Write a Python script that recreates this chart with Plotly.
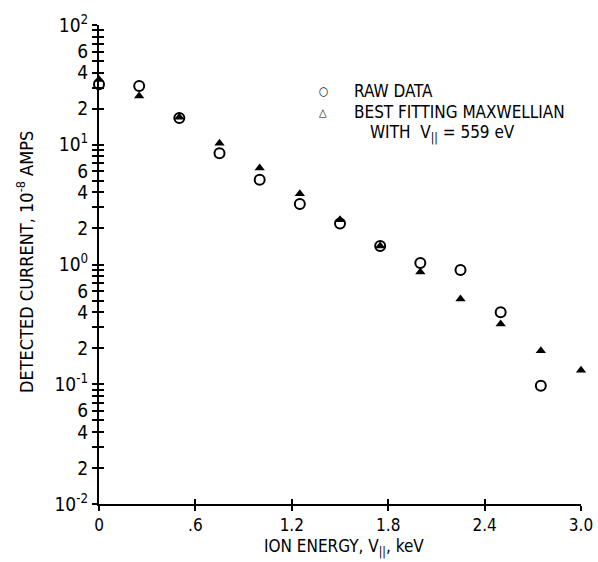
import plotly.graph_objects as go

# Ion energy (keV) and detected current (units of 1e-8 A)
raw_energy = [0.0, 0.25, 0.5, 0.75, 1.0, 1.25, 1.5, 1.75, 2.0, 2.25, 2.5, 2.75]
raw_current = [32, 31, 16.7, 8.5, 5.1, 3.2, 2.2, 1.43, 1.03, 0.90, 0.40, 0.097]

fit_energy = [0.0, 0.25, 0.5, 0.75, 1.0, 1.25, 1.5, 1.75, 2.0, 2.25, 2.5, 2.75, 3.0]
fit_current = [35, 25.5, 17, 10.3, 6.4, 3.9, 2.36, 1.43, 0.865, 0.515, 0.318, 0.19, 0.131]

x_tickvals = [0, 0.6, 1.2, 1.8, 2.4, 3.0]
x_ticktext = ["0", ".6", "1.2", "1.8", "2.4", "3.0"]

decades = [-2, -1, 0, 1, 2]
labelled_mults = [2, 4, 6]
plain_mults = [3, 5, 7, 8, 9]

FONT = "Liberation Sans Narrow, DejaVu Sans Condensed, Arial Narrow, sans-serif"

# log-axis ticks: powers of ten and 2,4,6 labelled, the rest as bare minor ticks
y_tickvals, y_ticktext, y_minorvals = [], [], []
for d in decades:
    y_tickvals.append(10.0 ** d)
    y_ticktext.append(f"10<sup>{d}</sup>")
    if d < 2:
        for m in labelled_mults:
            y_tickvals.append(m * 10.0 ** d)
            y_ticktext.append(str(m))
        for m in plain_mults:
            y_minorvals.append(m * 10.0 ** d)

fig = go.Figure()

fig.add_trace(go.Scatter(
    x=raw_energy, y=raw_current, mode="markers", name="RAW DATA",
    marker=dict(symbol="circle-open", size=10, color="black", line=dict(width=2)),
    cliponaxis=False, showlegend=False,
))
fig.add_trace(go.Scatter(
    x=fit_energy, y=fit_current, mode="markers", name="BEST FITTING MAXWELLIAN",
    marker=dict(symbol="triangle-up", size=9, color="black"),
    cliponaxis=False, showlegend=False,
))
# empty trace that carries the overlay axes used for the inward half of each tick
fig.add_trace(go.Scatter(x=[], y=[], xaxis="x2", yaxis="y2", showlegend=False))

axis_common = dict(showgrid=False, zeroline=False, color="black", automargin=False)
tick_style = dict(ticklen=5, tickwidth=1.5, tickcolor="black")

fig.update_layout(
    width=598, height=562,
    margin=dict(l=99, r=17, t=25, b=58),
    paper_bgcolor="white", plot_bgcolor="white",
    font=dict(family=FONT, color="black"),
    xaxis=dict(
        range=[0, 3], tickvals=x_tickvals, ticktext=x_ticktext,
        ticks="outside", **tick_style,
        showline=True, linewidth=2, linecolor="black",
        tickfont=dict(size=17), **axis_common,
    ),
    yaxis=dict(
        type="log", range=[-2, 2], tickvals=y_tickvals, ticktext=y_ticktext,
        ticks="outside", **tick_style,
        minor=dict(tickmode="array", tickvals=y_minorvals, ticks="outside",
                   showgrid=False, **tick_style),
        showline=True, linewidth=2, linecolor="black",
        tickfont=dict(size=19), **axis_common,
    ),
    xaxis2=dict(
        overlaying="x", anchor="y2", range=[0, 3], tickvals=x_tickvals,
        ticks="inside", **tick_style,
        showticklabels=False, showline=False, **axis_common,
    ),
    yaxis2=dict(
        overlaying="y", anchor="x2", side="left", type="log", range=[-2, 2],
        tickvals=y_tickvals, ticks="inside", **tick_style,
        minor=dict(tickmode="array", tickvals=y_minorvals, ticks="inside",
                   showgrid=False, **tick_style),
        showticklabels=False, showline=False, **axis_common,
    ),
)

annotations = [
    dict(text="DETECTED CURRENT, 10<sup>-8</sup> AMPS", x=25, y=262, textangle=-90,
         font=dict(size=18)),
    dict(text="ION ENERGY, V<sub>||</sub>, keV", x=344, y=547, font=dict(size=17)),
    dict(text="○", x=323, y=91, font=dict(size=12)),
    dict(text="△", x=323, y=112, font=dict(size=11)),
    dict(text="RAW DATA", x=352, y=91, xanchor="left", font=dict(size=17)),
    dict(text="BEST FITTING MAXWELLIAN", x=352, y=112, xanchor="left", font=dict(size=17)),
    dict(text="WITH  V<sub>||</sub> = 559 eV", x=368, y=133, xanchor="left", font=dict(size=17)),
]
W, H = 598, 562
L, R, T, B = 99, 17, 25, 58
for a in annotations:
    px, py = a.pop("x"), a.pop("y")
    a.update(
        xref="paper", yref="paper", showarrow=False,
        x=(px - L) / (W - L - R), y=(H - B - py) / (H - T - B),
    )
    a.setdefault("xanchor", "center")
    a["yanchor"] = "middle"
    fig.add_annotation(**a)

fig.write_html("out.html")
